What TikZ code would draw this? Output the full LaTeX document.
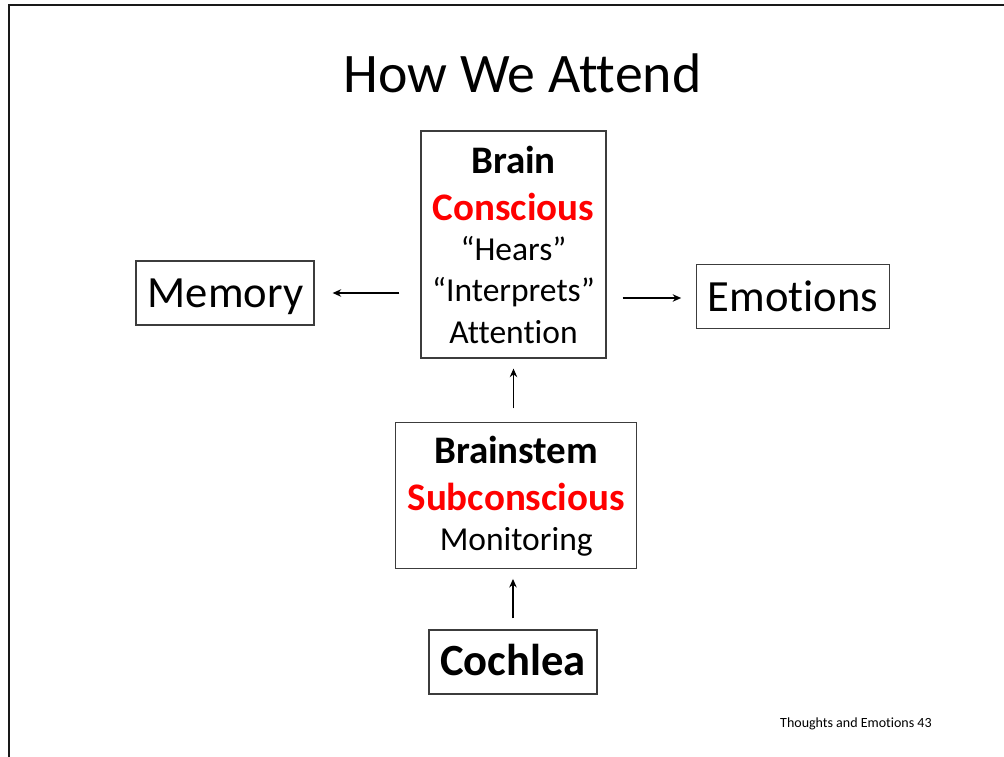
\documentclass[tikz,border=0pt]{standalone}
\usepackage{fontspec}
\setmainfont{Carlito}[Ligatures={NoCommon}]
\usetikzlibrary{arrows.meta}
\definecolor{boxline}{HTML}{3C3C3C}
\definecolor{redtxt}{HTML}{FF0000}
\tikzset{
  box/.style={draw=boxline, line width=1.3pt, rectangle, inner sep=0pt},
  txt/.style={anchor=base, inner sep=0pt, font=\fontsize{33.5}{40}\selectfont},
  headtxt/.style={anchor=base, inner sep=0pt, font=\fontsize{39}{42}\selectfont\bfseries},
  bigtxt/.style={anchor=base, inner sep=0pt, font=\fontsize{44.6}{50}\selectfont},
  arr/.style={-{Stealth[length=8.5pt,width=7.5pt]}, line width=1.2pt, black},
}
\begin{document}
\begin{tikzpicture}[x=1pt,y=-1pt]
\useasboundingbox (0,0) rectangle (1004,757);
% slide frame (partly cut off)
\draw[line width=2.5pt, black!90] (9,757) -- (9,5) -- (1004,5);
% title
\node[anchor=base, inner sep=0pt, font=\fontsize{55.8}{60}\selectfont] (title) at (522.5,93) {How We Attend};
% boxes
\node[box, minimum width=185pt, minimum height=227pt] (brain) at (513.5,244.5) {};
\node[box, minimum width=178pt, minimum height=64pt] (memory) at (225,293) {};
\node[box, minimum width=193pt, minimum height=64.4pt] (emotions) at (793.3,296.5) {};
\node[box, minimum width=241pt, minimum height=145.6pt] (brainstem) at (516.2,495.5) {};
\node[box, minimum width=168pt, minimum height=64pt] (cochlea) at (513,662) {};
% box texts
\node[headtxt] (b1) at (513.5,173) {Brain};
\node[headtxt, text=redtxt] (b2) at (513.5,220) {Conscious};
\node[txt] (b3) at (513.5,260) {“Hears”};
\node[txt] (b4) at (513.5,301) {“Interprets”};
\node[txt] (b5) at (513.5,343) {Attention};
\node[bigtxt] (mt) at (225.5,307) {Memory};
\node[bigtxt] (et) at (793,311) {Emotions};
\node[headtxt] (s1) at (516.2,463) {Brainstem};
\node[headtxt, text=redtxt] (s2) at (516.2,510) {Subconscious};
\node[txt] (s3) at (516.2,550) {Monitoring};
\node[bigtxt, font=\fontsize{44.6}{50}\selectfont\bfseries] (ct) at (513,675) {Cochlea};
% footer
\node[anchor=base west, inner sep=0pt, font=\fontsize{14}{16}\selectfont] (foot) at (780,727) {Thoughts and Emotions 43};
% connectors
\draw[arr, shorten <=21pt, shorten >=18pt] (brain.west |- memory.east) -- (memory.east);
\draw[arr, shorten <=16pt, shorten >=15pt] (brain.east |- 0,298) -- (emotions.west |- 0,298);
\draw[arr, shorten <=13.7pt, shorten >=10pt] (brain.south |- brainstem.north) -- (brain.south);
\draw[arr, shorten <=11pt, shorten >=10pt] (cochlea.north) -- (cochlea.north |- brainstem.south);
\end{tikzpicture}
\end{document}
